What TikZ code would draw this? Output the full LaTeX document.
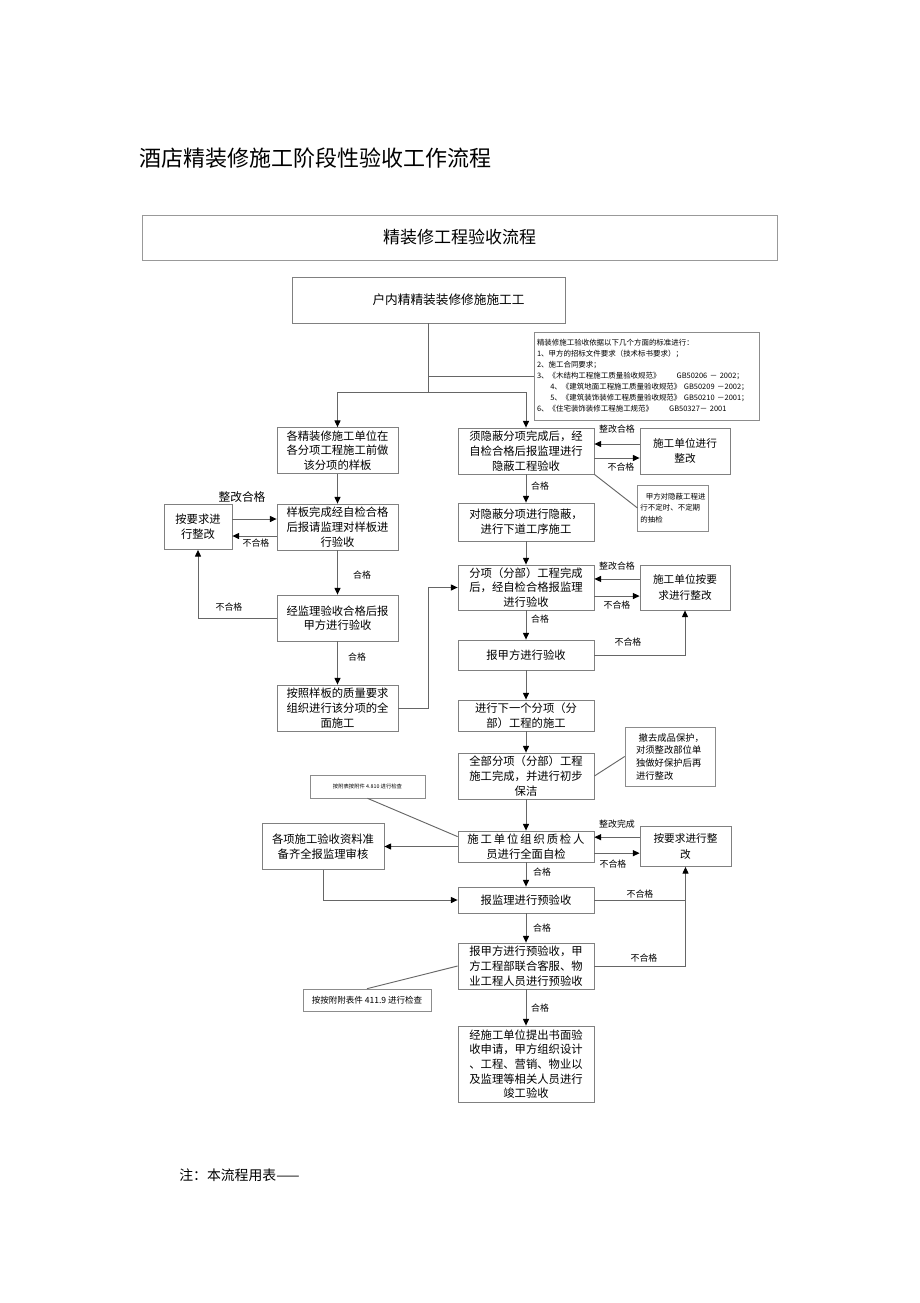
\documentclass[tikz,border=0pt]{standalone}
\usepackage{fontspec}
\setmainfont{Noto Sans CJK SC}
\usetikzlibrary{arrows.meta, positioning}

\tikzset{
  box/.style={draw=black!50, line width=0.6pt, align=center, inner sep=1pt,
    font=\fontsize{8.5pt}{11pt}\selectfont},
  lbox/.style={box, minimum width=90.75pt, minimum height=34.5pt},
  mbox/.style={box, minimum width=102pt},
  rbox/.style={box, minimum width=67.5pt, font=\fontsize{8pt}{11.5pt}\selectfont},
  notebox/.style={draw=black!45, line width=0.5pt, align=left, inner sep=2pt},
  link/.style={draw=black!60, line width=0.7pt},
  arr/.style={link, -{Triangle[width=4.5pt,length=5pt,color=black]}},
  lbl/.style={font=\fontsize{6.7pt}{8pt}\selectfont, inner sep=0pt},
}

\begin{document}
\begin{tikzpicture}[x=0.75pt,y=-0.75pt]
  \useasboundingbox (0,0) rectangle (920,1303);

  \node[anchor=west, inner sep=0pt, font=\fontsize{16.5pt}{18pt}\selectfont] (title) at (139,158) {酒店精装修施工阶段性验收工作流程};
  \node[draw=black!40, line width=0.5pt, minimum width=476.25pt, minimum height=33.75pt,
        font=\fontsize{12.75pt}{14pt}\selectfont] (head) at (459.5,237.5) {精装修工程验收流程};
  \node[box, minimum width=204.75pt, minimum height=34.5pt, font=\fontsize{9.5pt}{11pt}\selectfont] (start) at (428.5,300) {\hspace*{30pt}户内精精装装修修施施工工};
  \node[notebox, text width=165pt, minimum height=66pt, font=\fontsize{5.6pt}{8.25pt}\selectfont] (basis) at (647,376) {%
    精装修施工验收依据以下几个方面的标准进行：\\
    1、甲方的招标文件要求（技术标书要求）；\\
    2、施工合同要求；\\
    3、《木结构工程施工质量验收规范》\hspace{12pt}GB50206 － 2002；\\
    \hspace*{10pt}4、《建筑地面工程施工质量验收规范》 GB50209 －2002；\\
    \hspace*{10pt}5、《建筑装饰装修工程质量验收规范》 GB50210 －2001；\\
    6、《住宅装饰装修工程施工规范》\hspace{12pt}GB50327－ 2001};

  % left column: samples
  \node[lbox] (sample) at (337.5,450.5) {各精装修施工单位在\\各分项工程施工前做\\该分项的样板};
  \node[lbox] (samplechk) at (337.5,527) {样板完成经自检合格\\后报请监理对样板进\\行验收};
  \node[box, minimum width=51pt, minimum height=33.75pt] (fixL) at (198,527) {按要求进\\行整改};
  \node[lbox] (supchk) at (337.5,618) {经监理验收合格后报\\甲方进行验收};
  \node[lbox] (fullwork) at (337.5,708) {按照样板的质量要求\\组织进行该分项的全\\面施工};

  % middle column
  \node[mbox, minimum height=34.5pt] (hidden) at (526,451) {须隐蔽分项完成后，经\\自检合格后报监理进行\\隐蔽工程验收};
  \node[rbox, minimum height=34.5pt] (fixA) at (685,451) {施工单位进行\\整改};
  \node[notebox, minimum width=49.5pt, minimum height=34.5pt, font=\fontsize{5.6pt}{8.6pt}\selectfont] (spot) at (673,508) {\hspace*{4pt}甲方对隐蔽工程进\\行不定时、不定期\\的抽检};
  \node[mbox, minimum height=28.5pt] (cover) at (526,522) {对隐蔽分项进行隐蔽，\\进行下道工序施工};
  \node[mbox, minimum height=33.75pt] (subdone) at (526,587.5) {分项（分部）工程完成\\后，经自检合格报监理\\进行验收};
  \node[rbox, minimum height=33.75pt] (fixB) at (685,587.5) {施工单位按要\\求进行整改};
  \node[mbox, minimum height=22.5pt] (ownerchk) at (526,655) {报甲方进行验收};
  \node[mbox, minimum height=23.25pt] (nextsub) at (526,715.5) {进行下一个分项（分\\部）工程的施工};
  \node[mbox, minimum height=34.5pt] (alldone) at (526,776) {全部分项（分部）工程\\施工完成，并进行初步\\保洁};
  \node[notebox, minimum width=67.5pt, minimum height=44.25pt, font=\fontsize{7pt}{9.5pt}\selectfont] (protect) at (670,756.5) {\hspace*{2pt}撤去成品保护，\\对须整改部位单\\独做好保护后再\\进行整改};
  \node[notebox, minimum width=86.25pt, minimum height=17.25pt, align=center, font=\fontsize{4pt}{5pt}\selectfont] (form4810) at (367.5,786.5) {按附表按附件 4.810 进行检查};
  \node[mbox, minimum height=23.25pt] (selfchk) at (526,846.5) {施\,工\,单\,位\,组\,织\,质\,检\,人\\员进行全面自检};
  \node[rbox, minimum width=68.25pt, minimum height=30pt] (fixC) at (685.5,846.5) {按要求进行整\\改};
  \node[box, minimum width=91.5pt, minimum height=34.5pt] (docs) at (323,846.5) {各项施工验收资料准\\备齐全报监理审核};
  \node[mbox, minimum height=19.5pt] (prechk) at (526,900) {报监理进行预验收};
  \node[mbox, minimum height=34.5pt] (ownerpre) at (526,966) {报甲方进行预验收，甲\\方工程部联合客服、物\\业工程人员进行预验收};
  \node[notebox, minimum width=96pt, minimum height=16.5pt, align=center, font=\fontsize{6.4pt}{7pt}\selectfont] (form411) at (367,1000) {按按附附表件 411.9 进行检查};
  \node[mbox, minimum height=57pt] (final) at (526,1064) {经施工单位提出书面验\\收申请，甲方组织设计\\、工程、营销、物业以\\及监理等相关人员进行\\竣工验收};

  \node[anchor=west, inner sep=0pt, font=\fontsize{10.4pt}{12pt}\selectfont] (footnote) at (179,1175) {注：本流程用表——};

  % top fork
  \coordinate (fork) at (428.5,392);
  \draw[link] (start.south) -- (fork);
  \draw[link] (start.south |- basis.west) -- (basis.west);
  \draw[arr] (fork) -| (sample.north);
  \draw[arr] (fork) -| (hidden.north);

  % straight runs down
  \foreach \a/\b in {sample/samplechk, samplechk/supchk, supchk/fullwork,
                     hidden/cover, cover/subdone, subdone/ownerchk, ownerchk/nextsub,
                     nextsub/alldone, alldone/selfchk, selfchk/prechk, prechk/ownerpre,
                     ownerpre/final}
    \draw[arr] (\a.south) -- (\b.north);

  % left loops
  \draw[arr] ([yshift=6pt]fixL.east) -- ([yshift=6pt]samplechk.west);
  \draw[arr] ([yshift=-6.75pt]samplechk.west) -- ([yshift=-6.75pt]fixL.east);
  \draw[arr] (supchk.west) -| (fixL.south);
  \draw[arr] (fullwork.east) -- ++(30,0) |- (subdone.west);

  % right loops
  \draw[arr] ([yshift=5.25pt]fixA.west) -- ([yshift=5.25pt]hidden.east);
  \draw[arr] ([yshift=-5.25pt]hidden.east) -- ([yshift=-5.25pt]fixA.west);
  \draw[arr] ([yshift=6.4pt]fixB.west) -- ([yshift=6.4pt]subdone.east);
  \draw[arr] ([yshift=-6.4pt]subdone.east) -- ([yshift=-6.4pt]fixB.west);
  \draw[arr] (ownerchk.east) -| (fixB.south);
  \draw[arr] ([yshift=7pt]fixC.west) -- ([yshift=7pt]selfchk.east);
  \draw[arr] ([yshift=-5pt]selfchk.east) -- ([yshift=-5pt]fixC.west);
  \draw[arr] (prechk.east) -| (fixC.south);
  \draw[link] (ownerpre.east) -| (fixC.south |- prechk.east);

  % documents and remarks
  \draw[arr] (selfchk.west) -- (docs.east);
  \draw[arr] (docs.south) |- (prechk.west);
  \draw[link] (hidden.south east) -- (spot.west);
  \draw[link] (alldone.east) -- (protect.west);
  \draw[link] (form4810.south) -- ([yshift=-4.5pt]selfchk.north west);
  \draw[link] (ownerpre.west) -- (form411.north);

  % labels
  \node[lbl, font=\fontsize{8.8pt}{10pt}\selectfont] (fixokL) at (242,497) {整改合格};
  \node[lbl] (failL1) at (256,543) {不合格};
  \node[lbl] (passL1) at (362,575) {合格};
  \node[lbl] (failL2) at (229,607) {不合格};
  \node[lbl] (passL2) at (357,657) {合格};
  \node[lbl] (fixokA) at (617,429) {整改合格};
  \node[lbl] (failA) at (621,467) {不合格};
  \node[lbl] (passA) at (540,486) {合格};
  \node[lbl] (fixokB) at (617,566) {整改合格};
  \node[lbl] (failB) at (617,605) {不合格};
  \node[lbl] (passB) at (540,619) {合格};
  \node[lbl] (failB2) at (628,642) {不合格};
  \node[lbl] (fixdoneC) at (617,824) {整改完成};
  \node[lbl] (failC) at (613,864) {不合格};
  \node[lbl] (passC) at (542,872) {合格};
  \node[lbl] (failC2) at (640,894) {不合格};
  \node[lbl] (passD) at (542,928) {合格};
  \node[lbl] (failD) at (644,958) {不合格};
  \node[lbl] (passE) at (540,1008) {合格};
\end{tikzpicture}
\end{document}
